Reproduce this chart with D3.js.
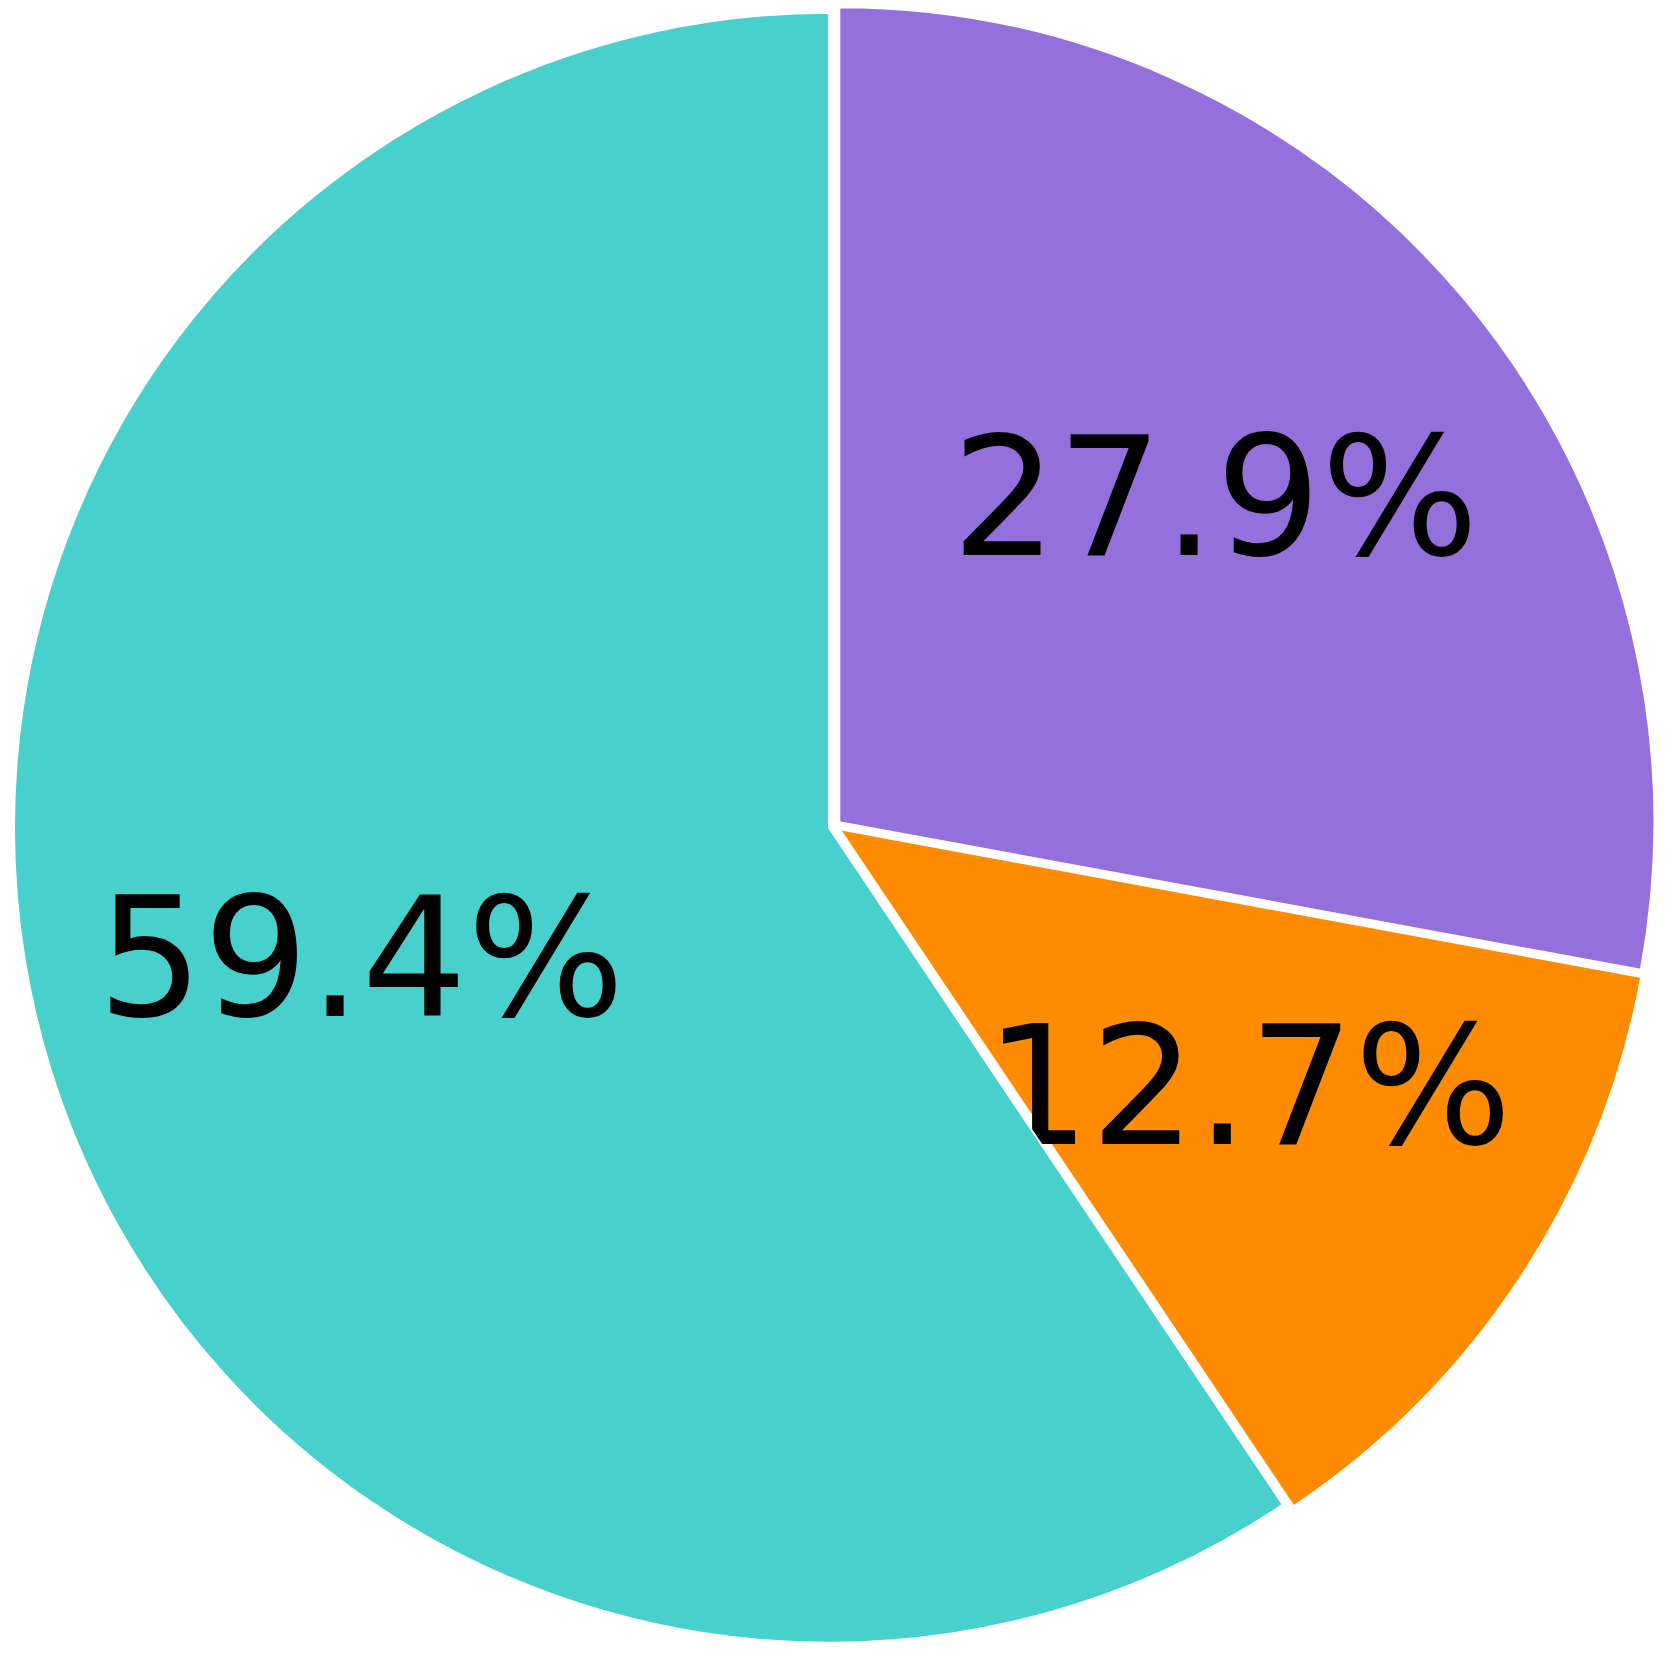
<!DOCTYPE html>
<html>
<head>
<meta charset="utf-8">
<script src="https://cdn.jsdelivr.net/npm/d3@7"></script>
<style>
html,body{margin:0;padding:0;background:#fff;}
</style>
</head>
<body>
<svg id="chart" width="1673" height="1653"></svg>
<script>
const categories = ["A", "B", "C"];
const values = [27.9, 12.7, 59.4];
const labels = ["27.9%", "12.7%", "59.4%"];
const colors = ["#9370DB", "#FF8C00", "#48D1CC"];

const W = 1673, H = 1653;
const cx = 834.7, cy = 826, R = 815;
const explode = 6;
const svg = d3.select("#chart");
const g = svg.append("g").attr("transform", `translate(${cx},${cy})`);

const pie = d3.pie().sort(null).value(d => d).startAngle(0).endAngle(2 * Math.PI);
const arcs = pie(values);
const arc = d3.arc().innerRadius(0).outerRadius(R);

const slices = g.selectAll("g.slice").data(arcs).enter().append("g")
  .attr("class", "slice")
  .attr("transform", d => {
    const m = (d.startAngle + d.endAngle) / 2;
    return `translate(${explode * Math.sin(m)},${-explode * Math.cos(m)})`;
  });

slices.append("path")
  .attr("d", arc)
  .attr("fill", (d, i) => colors[i])
  .attr("stroke", "#fff")
  .attr("stroke-width", 2)
  .attr("stroke-linejoin", "miter");

slices.append("text")
  .attr("x", d => { const m = (d.startAngle + d.endAngle) / 2; return 0.6 * R * Math.sin(m); })
  .attr("y", d => { const m = (d.startAngle + d.endAngle) / 2; return -0.6 * R * Math.cos(m) + 46; })
  .attr("text-anchor", "middle")
  .attr("font-family", "DejaVu Sans")
  .attr("font-size", 166)
  .attr("fill", "#000")
  .text((d, i) => labels[i]);
</script>
</body>
</html>
